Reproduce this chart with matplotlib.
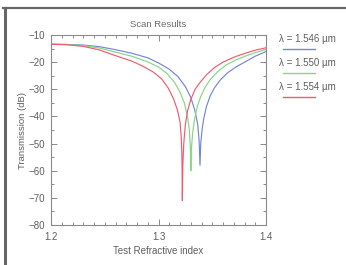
import matplotlib
matplotlib.use("Agg")
import matplotlib.pyplot as plt
from matplotlib.lines import Line2D

# Values (x: test refractive index, y: dB)
red_x = [1.200, 1.215, 1.230, 1.245, 1.260, 1.275, 1.285, 1.295, 1.303, 1.309,
         1.314, 1.3175, 1.320, 1.3212, 1.3218, 1.3222,
         1.3226, 1.3235, 1.3250, 1.327, 1.330, 1.334, 1.339, 1.345, 1.352,
         1.360, 1.370, 1.380, 1.390, 1.400]
red_y = [-13.4, -13.6, -14.2, -15.5, -17.6, -19.6, -21.4, -23.6, -26.2, -29.5,
         -33.5, -37.5, -42.0, -48.0, -55.0, -71.0,
         -58.0, -50.0, -43.0, -38.0, -33.8, -30.0, -27.3, -24.5, -22.0,
         -20.0, -18.2, -16.8, -15.6, -14.7]

green_x = [1.200, 1.215, 1.230, 1.245, 1.260, 1.275, 1.290, 1.300, 1.308, 1.315,
           1.320, 1.324, 1.327, 1.3287, 1.3296, 1.3301,
           1.3306, 1.3318, 1.3335, 1.336, 1.339, 1.343, 1.348, 1.355, 1.363,
           1.372, 1.382, 1.391, 1.400]
green_y = [-13.4, -13.5, -13.9, -14.8, -16.3, -17.8, -19.9, -21.8, -24.2, -27.5,
           -31.0, -35.0, -40.0, -45.0, -51.0, -60.0,
           -52.0, -46.0, -41.0, -36.5, -33.0, -29.5, -26.5, -23.5, -21.0,
           -19.2, -17.6, -16.4, -15.3]

blue_x = [1.200, 1.215, 1.230, 1.245, 1.260, 1.275, 1.290, 1.300, 1.310, 1.318,
          1.325, 1.330, 1.334, 1.3365, 1.3378, 1.3386,
          1.3393, 1.3405, 1.3420, 1.3445, 1.348, 1.352, 1.357, 1.364, 1.372,
          1.381, 1.390, 1.400]
blue_y = [-13.4, -13.5, -13.7, -14.3, -15.4, -16.7, -18.4, -20.3, -22.6, -25.3,
          -29.0, -33.0, -38.0, -43.0, -49.0, -58.0,
          -50.0, -45.0, -41.0, -36.5, -32.5, -29.5, -26.8, -24.0, -21.8,
          -19.8, -17.8, -16.1]

labels = ["λ = 1.546 µm", "λ = 1.550 µm", "λ = 1.554 µm"]
colors = ["#7585d8", "#86d686", "#f05c6f"]

TXT = "#5e5e5e"
W, H = 346, 265

plt.rcParams.update({"font.family": ["Liberation Sans", "DejaVu Sans"],
                     "font.size": 7})

fig = plt.figure(figsize=(W / 100, H / 100), dpi=100)
fig.patch.set_facecolor("white")
ax = fig.add_axes([51 / W, 1 - 225 / H, 215 / W, 190 / H])

for xs, ys, c in zip([blue_x, green_x, red_x], [blue_y, green_y, red_y], colors):
    ax.plot(xs, ys, color=c, lw=0.85)

ax.set_xlim(1.2, 1.4)
ax.set_ylim(-80, -10)
ax.set_xticks([1.2, 1.3, 1.4])
ax.set_xticklabels(["1.2", "1.3", "1.4"])
ax.set_yticks(range(-80, -9, 10))
ax.set_xticks([1.2 + 0.01 * i for i in range(21)], minor=True)
ax.set_yticks(range(-80, -9, 5), minor=True)
ax.tick_params(which="both", direction="in", top=True, right=True,
               colors="#8a8a8a", labelcolor=TXT, labelsize=7, width=0.7)
ax.tick_params(which="major", length=4)
ax.tick_params(which="minor", length=2)
ax.tick_params(axis="x", pad=5)
ax.tick_params(axis="y", pad=4)
for s in ax.spines.values():
    s.set_color("#8a8a8a")
    s.set_linewidth(0.8)

ax.set_title("Scan Results", color="#6a6a6a", fontsize=6.8, pad=6)
ax.set_xlabel("Test Refractive index", color=TXT, fontsize=7, labelpad=3)
ax.set_ylabel("Transmission (dB)", color=TXT, fontsize=6.8, labelpad=1)

# legend: label text above a short colour line, right of the axes
for i, (lab, c) in enumerate(zip(labels, colors)):
    ty = 39 + 24 * i
    fig.text(279 / W, 1 - ty / H, lab, color=TXT, fontsize=7, va="center")
    fig.add_artist(Line2D([283 / W, 315 / W], [1 - (ty + 10) / H] * 2,
                          color=c, lw=1.0))

# outer frame from the screenshot (top and left edges)
fig.add_artist(Line2D([3 / W, 1], [1 - 8.3 / H] * 2, color="#666666", lw=1.6))
fig.add_artist(Line2D([4.5 / W] * 2, [0, 1 - 8.3 / H], color="#666666", lw=2.2))

fig.savefig("out.png", dpi=100)
